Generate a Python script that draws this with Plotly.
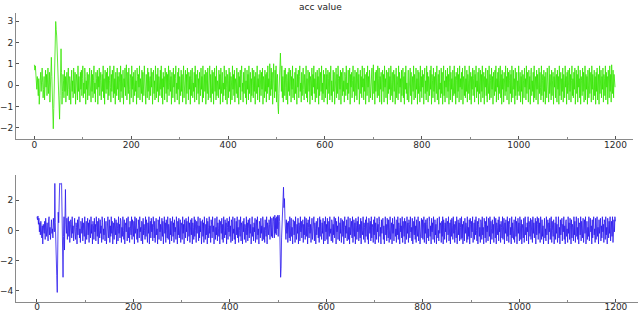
import plotly.graph_objects as go

acc_top = [
0.95,0.7,0.9,0.3,0.6,-0.2,0.4,0.1,-0.5,0.3,-0.9,-0.4,0.2,0.6,-0.3,0.5,0.8,0.1,-0.6,-0.2,0.4,-0.7,0.3,0.7,-0.1,0.5,-0.5,0.2,0.8,-0.4,0.1,0.6,-0.8,0.3,0.9,1.3,0.4,-0.6,-1.2,-2.05,
-1.1,-0.3,0.6,1.8,2.98,2.6,2.3,1.6,1.9,0.4,-0.4,-1.0,-1.6,-0.5,1.0,1.7,0.6,-0.9,-0.3,0.5,0.2,-0.6,0.7,-0.3,0.4,-0.8,0.1,0.6,-0.5,0.3,0.8,-0.2,-0.7,0.4,0.1,-0.9,0.5,0.7,-0.3,0.2,
-0.6,0.8,0.3,-0.4,0.6,-0.9,-0.1,0.5,0.2,-0.7,0.9,-0.3,0.4,0.0,-0.8,0.6,-0.2,0.7,-0.5,0.3,0.9,-0.6,0.1,-0.4,0.8,0.4,-0.9,0.2,-0.2,0.6,-0.7,0.5,0.1,-0.5,0.8,-0.1,0.3,-0.8,0.7,-0.3,
0.5,-0.6,0.2,0.9,-0.4,0.1,-0.8,0.6,0.3,-0.2,0.7,-0.9,0.4,-0.1,0.8,-0.5,0.2,0.6,-0.7,0.0,0.5,-0.3,0.9,-0.6,0.3,-0.9,0.7,0.1,-0.4,0.6,-0.2,0.8,-0.7,0.4,-0.5,0.2,0.9,-0.1,-0.8,0.5,
-0.3,0.7,0.2,-0.6,0.9,-0.4,0.3,-0.9,0.6,0.0,-0.5,0.8,-0.2,0.4,-0.7,0.6,0.1,-0.8,0.9,-0.3,0.5,-0.6,0.2,0.7,-0.9,0.3,-0.1,0.8,-0.5,0.4,0.95,-0.7,0.1,0.6,-0.4,0.8,-0.2,-0.9,0.5,0.3,
-0.6,0.9,-0.2,0.4,-0.8,0.6,0.1,-0.5,0.7,-0.3,0.2,-0.9,0.8,0.4,-0.6,0.5,-0.1,0.9,-0.7,0.3,0.0,-0.4,0.7,-0.8,0.6,0.2,-0.5,0.9,-0.2,0.4,-0.9,0.5,0.1,-0.6,0.8,-0.3,0.6,-0.7,0.2,0.4,
-0.5,0.8,-0.1,0.6,-0.9,0.3,0.7,-0.4,0.2,-0.7,0.9,0.0,-0.6,0.5,-0.3,0.8,-0.8,0.4,0.1,-0.5,0.7,-0.2,0.9,-0.6,0.3,-0.9,0.6,-0.1,0.4,-0.7,0.8,0.2,-0.4,0.6,-0.8,0.5,-0.2,0.9,-0.5,0.1,
0.7,-0.3,0.4,-0.9,0.6,0.2,-0.6,0.8,-0.1,0.5,-0.8,0.3,0.9,-0.4,0.1,-0.7,0.6,-0.2,0.8,-0.9,0.4,0.0,-0.5,0.7,-0.3,0.5,-0.8,0.2,0.9,-0.6,0.3,-0.1,0.7,-0.9,0.5,-0.4,0.8,0.1,-0.7,0.6,
-0.2,0.4,-0.9,0.7,-0.5,0.3,0.8,-0.6,0.1,-0.3,0.6,-0.8,0.9,-0.1,0.5,-0.7,0.2,0.7,-0.4,0.3,-0.9,0.6,0.0,-0.5,0.8,-0.2,0.4,-0.8,0.9,-0.6,0.2,0.5,-0.3,0.7,-0.9,0.1,0.6,-0.4,0.8,-0.7,
0.3,-0.1,0.9,-0.6,0.5,-0.8,0.2,0.7,-0.4,0.6,-0.9,0.1,0.8,-0.3,0.4,-0.7,0.9,-0.5,0.2,0.0,-0.6,0.7,-0.2,0.5,-0.9,0.8,-0.4,0.3,0.6,-0.8,0.1,-0.5,0.9,-0.2,0.4,-0.7,0.7,-0.1,-0.9,0.5,
0.2,-0.6,0.8,-0.3,0.6,-0.9,0.4,0.1,-0.7,0.9,-0.2,0.5,-0.5,0.7,-0.8,0.3,0.0,-0.4,0.8,-0.6,0.2,0.6,-0.9,0.4,-0.1,0.7,-0.7,0.5,0.9,-0.3,0.1,-0.8,0.6,-0.4,0.3,0.8,-0.6,0.2,-0.9,0.7,
-0.2,0.5,-0.7,0.9,-0.4,0.1,0.6,-0.8,0.3,-0.5,0.8,0.0,-0.6,0.7,-0.3,0.4,-0.9,0.6,0.2,-0.4,0.9,-0.7,0.3,-0.1,0.5,-0.8,0.7,0.1,-0.5,0.6,-0.2,0.8,-0.9,0.4,0.2,-0.6,0.7,-0.3,0.5,-0.8,
0.6,-0.4,0.9,-0.1,0.3,-0.7,1.0,0.2,-0.5,0.8,-0.2,0.6,-0.9,0.4,1.0,0.1,-0.6,0.7,-0.3,0.9,-0.8,0.3,0.5,-1.0,-1.35,-0.4,0.6,1.1,1.5,0.7,-0.3,0.9,-0.6,0.4,-0.8,0.2,0.7,-0.5,0.8,-0.1,
-0.7,0.5,0.2,-0.9,0.6,-0.3,0.8,-0.5,0.1,0.7,-0.8,0.4,-0.2,0.9,-0.6,0.3,0.0,-0.7,0.6,-0.4,0.8,0.2,-0.9,0.5,-0.1,0.7,-0.6,0.4,0.9,-0.3,0.1,-0.8,0.6,-0.5,0.3,0.8,-0.2,-0.7,0.5,0.1,
-0.4,0.9,-0.6,0.3,-0.8,0.7,0.0,-0.3,0.6,-0.9,0.4,0.2,-0.5,0.8,-0.7,0.5,-0.1,0.9,-0.4,0.3,-0.8,0.6,0.1,-0.6,0.7,-0.2,0.4,-0.9,0.8,-0.5,0.2,0.6,-0.3,0.9,-0.7,0.1,-0.4,0.7,-0.8,0.5,
0.0,-0.6,0.8,-0.2,0.5,-0.9,0.7,0.3,-0.4,0.6,-0.7,0.1,0.9,-0.5,0.2,-0.8,0.4,0.7,-0.3,0.6,-0.9,0.2,-0.1,0.8,-0.6,0.5,-0.4,0.9,0.3,-0.7,0.4,-0.2,0.7,-0.9,0.6,0.1,-0.5,0.8,-0.3,0.2,
-0.8,0.6,0.4,-0.5,0.9,-0.2,0.1,-0.7,0.7,-0.4,0.3,0.8,-0.9,0.5,-0.1,0.6,-0.6,0.2,0.9,-0.3,0.4,-0.8,0.7,0.0,-0.5,0.6,-0.7,0.3,0.8,-0.2,0.5,-0.9,0.1,0.7,-0.4,0.4,-0.6,0.9,-0.1,0.3,
-0.7,0.8,-0.3,0.5,-0.9,0.2,0.6,-0.5,0.9,-0.1,0.4,-0.8,0.7,0.1,-0.6,0.3,-0.2,0.8,-0.7,0.5,0.95,-0.4,0.2,-0.9,0.6,-0.3,0.7,0.0,-0.6,0.9,-0.5,0.3,0.8,-0.8,0.4,-0.2,0.6,-0.9,0.1,0.7,
-0.3,0.5,-0.8,0.9,-0.1,0.3,-0.6,0.7,0.2,-0.9,0.6,-0.4,0.8,-0.2,0.4,-0.7,0.9,0.1,-0.5,0.6,-0.8,0.3,0.7,-0.3,0.5,-0.9,0.2,0.8,-0.6,0.4,0.0,-0.7,0.9,-0.4,0.6,-0.1,0.3,-0.8,0.7,-0.5,
0.2,0.8,-0.6,0.4,-0.9,0.6,-0.2,0.9,-0.4,0.1,-0.7,0.5,0.7,-0.8,0.3,-0.1,0.8,-0.5,0.6,-0.9,0.2,0.4,-0.3,0.9,-0.7,0.5,0.1,-0.6,0.8,-0.2,0.3,-0.9,0.7,-0.4,0.6,0.0,-0.8,0.9,-0.3,0.4,
-0.6,0.7,-0.1,0.5,-0.9,0.3,0.8,-0.4,0.2,-0.7,0.9,-0.3,0.6,-0.8,0.4,0.1,-0.5,0.7,-0.2,0.9,-0.9,0.5,0.2,-0.6,0.8,-0.3,0.4,-0.8,0.6,0.0,-0.4,0.9,-0.7,0.3,0.5,-0.9,0.7,-0.2,0.1,-0.6,
0.8,-0.4,0.6,-0.9,0.3,0.9,-0.5,0.2,-0.8,0.7,-0.1,0.4,-0.6,0.8,-0.3,0.5,-0.9,0.1,0.9,-0.7,0.6,-0.2,0.3,-0.8,0.7,0.0,-0.5,0.9,-0.4,0.4,-0.9,0.6,0.2,-0.6,0.8,-0.3,0.5,-0.8,0.9,-0.1,
0.3,-0.7,0.6,-0.2,0.8,-0.9,0.4,0.1,-0.5,0.9,-0.6,0.3,-0.3,0.7,-0.8,0.5,0.2,-0.4,0.9,-0.7,0.1,0.6,-0.9,0.4,-0.2,0.8,-0.5,0.3,0.7,-0.8,0.5,-0.1,0.9,-0.6,0.2,-0.3,0.6,-0.9,0.8,-0.4,
0.1,0.7,-0.8,0.5,-0.3,0.9,-0.6,0.2,0.6,-0.9,0.4,-0.1,0.8,-0.5,0.3,-0.8,0.7,0.0,-0.4,0.9,-0.7,0.5,0.2,-0.6,0.8,-0.2,0.4,-0.9,0.6,0.1,-0.5,0.7,-0.3,0.9,-0.8,0.3,-0.1,0.6,-0.7,0.8,
-0.4,0.2,0.9,-0.6,0.5,-0.9,0.7,-0.2,0.3,-0.8,0.6,0.1,-0.5,0.9,-0.3,0.4,-0.7,0.8,-0.1,0.6,-0.9,0.2,0.7,-0.4,0.5,-0.8,0.9,0.0,-0.6,0.7,-0.2,0.3,-0.9,0.8,-0.5,0.4,0.6,-0.7,0.2,-0.3,
0.9,-0.5,0.1,0.6,-0.8,0.4,-0.3,0.7,-0.9,0.5,0.2,-0.6,0.8,-0.1,0.3,-0.7,0.9,-0.4,0.6,0.0,-0.8,0.7,-0.2,0.4,-0.9,0.5,0.8,-0.5,0.2,-0.3,0.6,-0.8,0.9,-0.6,0.1,0.4,-0.7,0.7,-0.2,0.5,
-0.9,0.3,0.8,-0.4,0.6,-0.1,-0.7,0.9,-0.5,0.2,0.5,-0.8,0.7,-0.3,0.4,-0.9,0.6,0.1,-0.6,0.8,-0.2,0.3,-0.8,0.9,-0.4,0.5,0.0,-0.7,0.7,-0.5,0.2,0.6,-0.9,0.4,-0.1,0.8,-0.6,0.3,0.5,-0.8,
0.7,-0.2,0.4,-0.9,0.9,-0.5,0.1,0.6,-0.7,0.3,-0.3,0.8,-0.8,0.5,0.2,-0.6,0.9,-0.1,0.4,-0.9,0.6,-0.4,0.7,0.0,-0.7,0.8,-0.3,0.5,-0.8,0.2,0.9,-0.5,0.3,-0.6,0.6,-0.2,0.8,-0.9,0.1,0.7,
-0.4,0.5,-0.8,0.9,-0.1,0.3,-0.6,0.7,-0.9,0.4,0.2,-0.5,0.8,-0.3,0.6,-0.8,0.1,0.9,-0.7,0.5,-0.2,0.4,-0.9,0.7,0.0,-0.6,0.8,-0.4,0.3,0.6,-0.8,0.9,-0.2,0.5,-0.7,0.2,0.7,-0.5,0.4,-0.9,
0.6,-0.3,0.8,-0.7,0.2,0.5,-0.9,0.9,-0.4,0.1,0.7,-0.6,0.4,-0.2,0.8,-0.8,0.5,0.3,-0.5,0.9,-0.7,0.6,-0.1,0.4,-0.9,0.7,0.2,-0.6,0.9,-0.3,0.5,-0.8,0.95,0.3,-0.4,0.7,-0.6,0.5,0.2,-0.1,
]

acc_bottom = [
0.9,0.7,0.95,0.4,0.8,-0.1,0.5,-0.3,0.6,0.2,-0.5,0.3,-0.9,0.4,0.1,-0.2,0.6,-0.6,0.8,0.3,-0.4,0.5,0.0,-0.7,0.6,0.9,-0.3,0.2,-0.6,0.4,0.7,-0.2,0.1,-0.5,0.8,0.3,-0.1,3.1,0.5,-0.3,
-2.2,-3.0,-4.1,-0.8,1.2,0.5,3.1,3.1,3.05,3.1,3.1,3.1,0.6,-1.0,-3.1,-0.4,0.9,-1.3,0.2,2.7,0.4,-0.2,0.8,-0.6,0.3,0.9,-0.4,0.6,-0.8,0.1,0.7,0.4,-0.5,0.9,-0.2,0.3,-0.7,0.6,0.8,-0.1,
-0.6,0.5,0.2,-0.9,0.7,-0.3,0.4,0.9,-0.5,0.1,-0.8,0.6,0.3,-0.2,0.8,-0.7,0.5,0.0,-0.4,0.9,-0.9,0.3,0.6,-0.6,0.2,0.8,-0.3,0.5,-0.8,0.7,0.1,-0.5,0.9,-0.2,0.4,-0.9,0.6,0.3,-0.6,0.8,
-0.1,0.4,-0.7,0.9,0.2,-0.4,0.6,-0.9,0.8,0.0,-0.5,0.7,-0.2,0.3,-0.8,0.9,0.5,-0.6,0.1,-0.3,0.8,-0.7,0.4,0.6,-0.9,0.2,-0.1,0.9,-0.5,0.5,0.7,-0.8,0.3,-0.4,0.9,-0.2,0.6,-0.9,0.1,0.5,
-0.6,0.8,0.3,-0.3,0.7,-0.9,0.5,0.1,-0.7,0.9,-0.2,0.4,-0.5,0.8,0.6,-0.8,0.2,-0.4,0.9,0.0,-0.6,0.7,-0.9,0.3,0.5,-0.1,0.8,-0.7,0.4,0.9,-0.5,0.2,-0.8,0.6,0.1,-0.3,0.9,-0.6,0.7,0.3,
-0.4,0.6,-0.9,0.9,-0.2,0.4,0.8,-0.6,0.1,-0.8,0.7,0.3,-0.5,0.9,-0.1,0.2,-0.7,0.6,0.5,-0.9,0.8,-0.3,0.4,0.0,-0.6,0.9,-0.4,0.7,0.2,-0.8,0.5,-0.2,0.9,-0.9,0.3,0.6,-0.5,0.8,-0.1,0.4,
-0.7,0.9,0.2,-0.5,0.6,-0.8,0.3,0.8,-0.3,0.1,-0.9,0.7,0.5,-0.6,0.9,-0.1,0.4,-0.7,0.2,0.8,-0.4,0.6,-0.9,0.3,0.9,-0.2,0.5,-0.8,0.7,0.0,-0.5,0.9,-0.6,0.4,0.1,-0.9,0.8,-0.3,0.6,-0.7,
0.3,0.9,-0.4,0.5,-0.8,0.7,-0.1,0.2,-0.6,0.9,0.4,-0.9,0.6,-0.3,0.8,-0.5,0.1,0.7,-0.8,0.5,0.3,-0.6,0.9,-0.2,0.4,-0.9,0.7,0.2,-0.5,0.8,-0.1,0.6,-0.7,0.3,0.9,-0.4,0.5,-0.8,0.1,0.7,
-0.3,0.8,-0.9,0.5,0.2,-0.6,0.9,-0.4,0.7,0.0,-0.8,0.6,-0.2,0.4,0.9,-0.7,0.3,-0.5,0.8,-0.1,0.6,-0.9,0.2,0.7,-0.4,0.5,-0.8,0.9,0.1,-0.6,0.4,-0.3,0.8,-0.9,0.6,0.2,-0.5,0.9,-0.2,0.3,
-0.8,0.7,0.4,-0.5,0.9,-0.1,0.3,-0.9,0.6,0.8,-0.6,0.2,-0.3,0.9,-0.7,0.5,0.1,-0.4,0.7,-0.9,0.6,0.3,-0.2,0.8,-0.6,0.4,-0.8,0.9,0.0,-0.5,0.7,-0.3,0.5,-0.9,0.8,0.2,-0.6,0.6,-0.1,0.9,
-0.4,0.3,-0.8,0.7,0.5,-0.7,0.9,-0.2,0.1,-0.6,0.8,-0.9,0.4,0.6,-0.3,0.9,-0.5,0.2,-0.8,0.7,0.0,-0.4,0.9,-0.7,0.5,0.3,-0.9,0.6,-0.1,0.8,-0.6,0.4,0.2,-0.8,0.9,-0.3,0.5,-0.7,0.7,0.1,
-0.5,0.8,-0.2,0.4,-0.9,0.6,0.9,-0.4,0.2,-0.7,0.5,-0.1,0.8,-0.8,0.3,0.7,-0.6,0.9,-0.3,0.1,-0.9,0.6,0.4,-0.5,0.8,-0.2,0.3,-0.7,0.9,0.5,-0.6,0.2,-0.8,0.7,0.0,-0.4,0.9,-0.9,0.5,0.3,
-0.3,0.7,0.4,-0.6,0.9,0.2,-0.4,0.8,-0.5,0.3,0.9,0.6,-0.5,1.0,-0.2,0.8,-0.3,0.9,0.1,1.0,-0.4,0.9,1.0,0.6,-1.0,-3.1,-2.5,-0.5,0.8,1.4,2.0,2.85,1.5,2.1,0.8,0.3,-0.6,0.7,-0.2,0.5,
-0.8,0.6,0.1,-0.5,0.9,-0.7,0.3,0.8,-0.4,0.2,-0.9,0.7,0.5,-0.3,0.6,-0.8,0.9,0.0,-0.6,0.4,-0.2,0.8,-0.9,0.5,0.3,-0.7,0.9,-0.1,0.6,-0.5,0.2,0.7,-0.8,0.4,-0.3,0.9,-0.6,0.1,0.8,-0.4,
0.5,-0.9,0.7,0.2,-0.5,0.9,-0.2,0.4,-0.8,0.6,0.8,-0.6,0.3,-0.1,0.9,-0.7,0.5,0.1,-0.9,0.6,-0.3,0.4,0.8,-0.5,0.2,-0.8,0.9,-0.4,0.7,0.0,-0.6,0.5,-0.2,0.8,-0.9,0.3,0.6,-0.7,0.9,-0.1,
0.4,-0.6,0.8,-0.9,0.3,0.6,-0.4,0.9,-0.2,0.1,-0.7,0.7,0.5,-0.8,0.4,-0.3,0.9,-0.5,0.2,0.8,-0.9,0.6,-0.1,0.3,-0.6,0.9,0.4,-0.7,0.5,-0.2,0.8,-0.8,0.1,0.7,-0.4,0.6,-0.9,0.2,0.9,-0.5,
0.3,-0.2,0.7,-0.7,0.5,0.9,-0.6,0.2,-0.9,0.8,-0.3,0.4,0.6,-0.5,0.9,-0.8,0.1,0.7,-0.4,0.5,-0.9,0.8,0.3,-0.6,0.6,-0.1,0.9,-0.7,0.2,0.4,-0.5,0.8,-0.9,0.6,0.0,-0.3,0.9,-0.6,0.5,0.2,
-0.8,0.7,-0.4,0.9,0.1,-0.6,0.5,-0.9,0.8,0.3,-0.2,0.6,-0.7,0.9,-0.5,0.4,0.2,-0.8,0.7,-0.3,0.9,-0.9,0.5,0.1,-0.6,0.8,-0.1,0.4,-0.8,0.9,0.6,-0.4,0.2,-0.9,0.7,-0.2,0.5,0.8,-0.6,0.3,
-0.9,0.6,0.9,-0.3,0.4,-0.7,0.8,0.0,-0.5,0.7,-0.8,0.3,0.9,-0.6,0.2,0.5,-0.9,0.8,-0.2,0.4,-0.7,0.9,0.6,-0.4,0.1,-0.8,0.7,-0.3,0.9,-0.6,0.5,0.2,-0.9,0.8,-0.1,0.3,-0.5,0.9,-0.8,0.6,
0.1,-0.4,0.8,-0.9,0.6,0.3,-0.6,0.9,-0.2,0.5,-0.8,0.7,0.4,-0.5,0.9,-0.1,0.2,-0.7,0.8,-0.9,0.5,0.6,-0.3,0.9,-0.6,0.3,-0.8,0.7,0.1,-0.4,0.9,-0.7,0.4,0.6,-0.9,0.2,-0.2,0.8,-0.5,0.7,
-0.6,0.3,0.9,-0.8,0.5,-0.2,0.7,-0.9,0.4,0.8,-0.5,0.1,-0.7,0.9,0.6,-0.4,0.3,-0.9,0.8,-0.1,0.5,-0.6,0.9,0.2,-0.8,0.7,-0.3,0.4,-0.9,0.6,0.8,-0.5,0.0,-0.7,0.9,-0.2,0.5,0.3,-0.8,0.6,
-0.4,0.9,-0.9,0.7,0.2,-0.6,0.5,-0.1,0.8,-0.8,0.4,0.6,-0.3,0.9,-0.7,0.1,0.5,-0.9,0.7,-0.4,0.8,0.3,-0.6,0.9,-0.2,0.4,-0.8,0.6,0.0,-0.5,0.9,-0.9,0.3,0.7,-0.3,0.5,-0.7,0.8,0.2,-0.6,
0.9,-0.5,0.4,-0.9,0.6,0.1,-0.7,0.8,-0.2,0.5,0.3,-0.8,0.9,-0.6,0.2,-0.4,0.7,-0.9,0.8,0.4,-0.5,0.6,-0.1,0.9,-0.8,0.3,0.5,-0.6,0.7,-0.3,0.9,0.0,-0.7,0.6,-0.9,0.4,0.8,-0.4,0.2,-0.8,
0.7,0.5,-0.6,0.9,-0.3,0.2,-0.9,0.8,0.4,-0.5,0.6,-0.8,0.9,-0.1,0.3,-0.7,0.8,0.5,-0.4,0.9,-0.9,0.6,0.1,-0.6,0.7,-0.2,0.4,-0.8,0.9,0.3,-0.5,0.8,-0.9,0.5,0.2,-0.3,0.7,-0.7,0.9,-0.1,
0.4,-0.8,0.6,0.2,-0.5,0.9,-0.6,0.3,0.8,-0.9,0.5,-0.2,0.7,0.1,-0.7,0.9,-0.4,0.6,-0.8,0.4,0.8,-0.3,0.2,-0.9,0.9,-0.5,0.5,0.0,-0.6,0.7,-0.8,0.3,0.9,-0.4,0.6,-0.9,0.2,0.8,-0.2,0.5,
-0.7,0.9,0.3,-0.6,0.7,-0.9,0.4,0.1,-0.5,0.8,-0.8,0.6,0.9,-0.3,0.2,-0.7,0.5,-0.1,0.9,-0.9,0.6,0.4,-0.4,0.8,-0.6,0.3,0.7,-0.8,0.9,-0.2,0.5,-0.5,0.1,0.8,-0.9,0.6,-0.3,0.9,0.4,-0.6,
0.8,-0.2,0.5,-0.8,0.9,0.2,-0.6,0.7,-0.4,0.3,-0.9,0.6,0.8,-0.5,0.1,-0.7,0.9,-0.3,0.4,0.7,-0.9,0.5,-0.1,0.8,-0.6,0.2,0.9,-0.8,0.6,0.0,-0.4,0.7,-0.9,0.3,0.5,-0.6,0.9,-0.2,0.4,-0.8,
0.6,0.9,-0.5,0.2,-0.9,0.7,-0.3,0.5,0.8,-0.7,0.4,-0.1,0.9,-0.6,0.3,-0.9,0.6,0.7,-0.4,0.1,-0.8,0.9,-0.2,0.5,-0.6,0.8,0.3,-0.9,0.7,-0.5,0.4,0.2,-0.7,0.9,-0.3,0.6,-0.8,0.5,0.9,-0.4,
0.2,-0.6,0.8,-0.9,0.5,0.4,-0.3,0.9,-0.7,0.6,0.1,-0.5,0.8,-0.8,0.3,0.7,-0.2,0.9,-0.9,0.4,0.6,-0.6,0.2,-0.4,0.9,-0.7,0.5,0.8,-0.1,0.3,-0.9,0.7,-0.5,0.6,0.9,-0.3,0.1,-0.8,0.8,-0.6,
0.5,0.9,-0.4,0.2,-0.9,0.7,-0.2,0.6,0.8,-0.7,0.3,-0.5,0.9,-0.1,0.4,-0.8,0.7,0.5,-0.6,0.9,-0.3,0.2,-0.9,0.8,0.4,-0.5,0.6,-0.2,0.9,-0.7,0.3,0.6,-0.4,0.9,-0.8,0.5,0.7,-0.1,0.9,0.6,
]

title_text = "acc value"
top_yticks = [-2, -1, 0, 1, 2, 3]
bottom_yticks = [-4, -2, 0, 2]
x_ticks = [0, 200, 400, 600, 800, 1000, 1200]

x_top = list(range(len(acc_top)))
x_bottom = list(range(len(acc_bottom)))

fig = go.Figure()
fig.add_trace(go.Scatter(x=x_top, y=acc_top, mode="lines",
                         line=dict(color="#33e600", width=0.8),
                         xaxis="x", yaxis="y", showlegend=False))
fig.add_trace(go.Scatter(x=x_bottom, y=acc_bottom, mode="lines",
                         line=dict(color="#2a18ee", width=0.8),
                         xaxis="x2", yaxis="y2", showlegend=False))

tick_font = dict(family="DejaVu Sans", size=9, color="#2a2a2a")
axis_common = dict(showline=True, linecolor="#8a8a8a", linewidth=1,
                   showgrid=False, zeroline=False, ticks="inside",
                   ticklen=3, tickcolor="#555555", tickfont=tick_font,
                   automargin=False)
minor_x = dict(dtick=100, ticks="inside", ticklen=2, tickcolor="#888888")

fig.update_layout(
    width=640, height=311,
    margin=dict(l=0, r=0, t=0, b=0),
    paper_bgcolor="white", plot_bgcolor="white",
    annotations=[dict(text=title_text, xref="paper", yref="paper", x=0.5, y=1.0,
                      xanchor="center", yanchor="top", showarrow=False,
                      font=dict(family="DejaVu Sans", size=9, color="#222222"))],
    xaxis=dict(domain=[0.025, 0.989], range=[-38, 1236], anchor="y",
               tickvals=x_ticks, minor=minor_x, ticklabelstandoff=-3, **axis_common),
    yaxis=dict(domain=[0.553, 0.958], range=[-2.53, 3.375], anchor="x",
               tickvals=top_yticks, **axis_common),
    xaxis2=dict(domain=[0.025, 0.997], range=[-43.5, 1246], anchor="y2",
                tickvals=x_ticks, minor=minor_x, ticklabelstandoff=-3, **axis_common),
    yaxis2=dict(domain=[0.03, 0.437], range=[-4.71, 3.65], anchor="x2",
                tickvals=bottom_yticks, **axis_common),
)

fig.write_html("out.html", config={"displayModeBar": False},
               post_script="document.body.style.margin='0';document.body.style.overflow='hidden';")
